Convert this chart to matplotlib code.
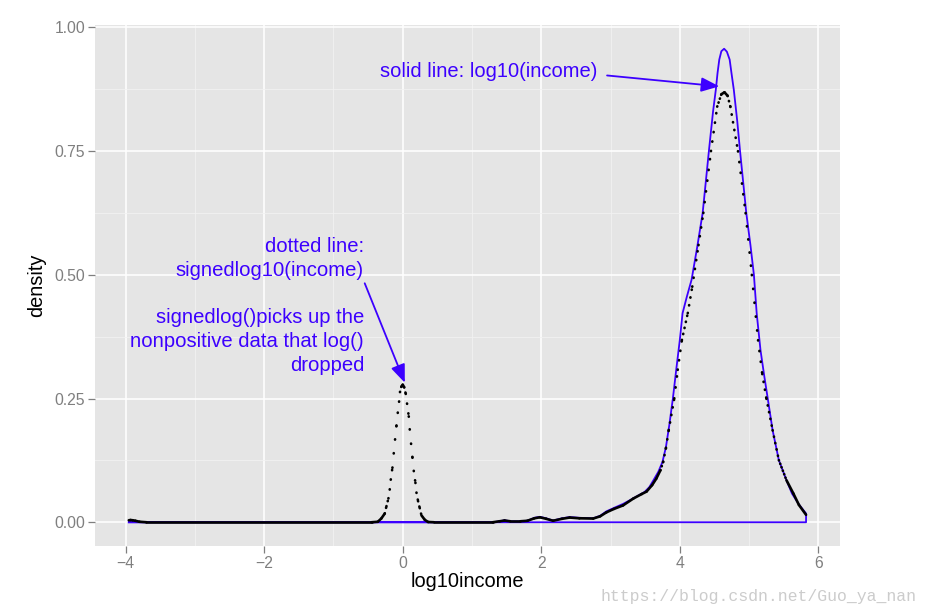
import numpy as np
import matplotlib
matplotlib.use("Agg")
import matplotlib.pyplot as plt
from matplotlib.collections import LineCollection
from matplotlib.ticker import FormatStrFormatter, MultipleLocator

# ---------------- data ----------------
# density of log10(income)  (solid blue)
log_x = [-3.955, 1.30, 1.40, 1.47, 1.55, 1.70, 1.80, 1.90, 1.98, 2.07, 2.17, 2.30,
         2.41, 2.55, 2.75, 2.85, 2.94, 3.05, 3.18, 3.28, 3.40, 3.49, 3.56, 3.62,
         3.69, 3.75, 3.80, 3.85, 3.90, 3.95, 4.00, 4.04, 4.10, 4.17, 4.25, 4.33,
         4.42, 4.48, 4.52, 4.545, 4.57, 4.60, 4.64, 4.68, 4.72, 4.746, 4.78, 4.83,
         4.87, 4.96, 5.02, 5.07, 5.11, 5.165, 5.22, 5.27, 5.34, 5.43, 5.54, 5.62,
         5.72, 5.823]
log_y = [0.0, 0.0, 0.002, 0.004, 0.002, 0.002, 0.003, 0.009, 0.011, 0.008, 0.0035,
         0.008, 0.0105, 0.009, 0.008, 0.013, 0.022, 0.029, 0.037, 0.0445, 0.054,
         0.061, 0.071, 0.085, 0.102, 0.122, 0.152, 0.198, 0.25, 0.31, 0.368, 0.4225,
         0.455, 0.49, 0.555, 0.625, 0.75, 0.83, 0.874, 0.908, 0.935, 0.952, 0.957,
         0.951, 0.935, 0.908, 0.874, 0.81, 0.75, 0.625, 0.56, 0.50, 0.4225, 0.348,
         0.295, 0.25, 0.186, 0.1255, 0.085, 0.058, 0.036, 0.0176]

# density of signedlog10(income)  (dotted black)
slog_x = [-3.955, -3.93, -3.90, -3.86, -3.80, -3.70, -0.45, -0.36, -0.31, -0.26,
          -0.236, -0.207, -0.188, -0.173, -0.149, -0.130, -0.111, -0.091, -0.072,
          -0.053, -0.040, -0.020, 0.0, 0.020, 0.043, 0.062, 0.087, 0.101, 0.120,
          0.140, 0.159, 0.183, 0.198, 0.221, 0.245, 0.270, 0.318, 0.366, 0.45,
          1.30, 1.40, 1.47, 1.55, 1.70, 1.80, 1.90, 1.98, 2.07, 2.17, 2.30, 2.41,
          2.55, 2.75, 2.85, 2.94, 3.05, 3.18, 3.33, 3.45, 3.52, 3.60, 3.66, 3.72,
          3.76, 3.80, 3.84, 3.92, 3.97, 4.03, 4.115, 4.18, 4.27, 4.34, 4.45, 4.54,
          4.60, 4.645, 4.69, 4.73, 4.84, 4.95, 5.04, 5.13, 5.19, 5.25, 5.34, 5.43,
          5.54, 5.64, 5.72, 5.823]
slog_y = [0.004, 0.0045, 0.004, 0.003, 0.001, 0.0, 0.0, 0.001, 0.0075, 0.0175,
          0.032, 0.048, 0.066, 0.086, 0.110, 0.139, 0.167, 0.195, 0.221, 0.2435,
          0.263, 0.274, 0.278, 0.273, 0.260, 0.240, 0.214, 0.188, 0.159, 0.131,
          0.104, 0.080, 0.060, 0.043, 0.029, 0.014, 0.005, 0.0005, 0.0, 0.0, 0.002,
          0.0035, 0.002, 0.002, 0.003, 0.008, 0.010, 0.007, 0.003, 0.007, 0.0095,
          0.008, 0.0075, 0.012, 0.020, 0.027, 0.034, 0.048, 0.057, 0.062, 0.075,
          0.088, 0.105, 0.122, 0.150, 0.186, 0.250, 0.308, 0.368, 0.4225, 0.476,
          0.560, 0.625, 0.750, 0.840, 0.865, 0.869, 0.862, 0.840, 0.750, 0.625,
          0.500, 0.368, 0.300, 0.250, 0.186, 0.1255, 0.085, 0.058, 0.035, 0.015]

x_ticks = [-4, -2, 0, 2, 4, 6]
y_ticks = [0.00, 0.25, 0.50, 0.75, 1.00]
x_label = "log10income"
y_label = "density"
note_solid = "solid line: log10(income)"
note_dotted = ("dotted line:\nsignedlog10(income)\n\n"
               "signedlog()picks up the\nnonpositive data that log()\ndropped")
watermark = "https://blog.csdn.net/Guo_ya_nan"

# ---------------- style ----------------
plt.rcParams["font.family"] = ["Liberation Sans", "DejaVu Sans"]
plt.rcParams["lines.scale_dashes"] = False
BLUE = "#3c00ff"
GREY = "#7f7f7f"
W, H = 930, 614

fig = plt.figure(figsize=(W / 100, H / 100), dpi=100)
ax = fig.add_axes([95 / W, 1 - 546 / H, 745 / W, 521 / H])
ax.set_xlim(-4.443, 6.313)
ax.set_ylim(-0.048, 1.005)
ax.set_facecolor("#e5e5e5")
for s in ax.spines.values():
    s.set_visible(False)

ax.set_xticks(x_ticks)
ax.set_yticks(y_ticks)
ax.xaxis.set_minor_locator(MultipleLocator(1))
ax.yaxis.set_minor_locator(MultipleLocator(0.125))
ax.yaxis.set_major_formatter(FormatStrFormatter("%.2f"))
ax.grid(which="major", color="white", linewidth=1.15)
ax.grid(which="minor", color="#f2f2f2", linewidth=0.6)
ax.set_axisbelow(True)
ax.tick_params(which="major", direction="out", length=4.7, width=0.9,
               color=GREY, labelcolor=GREY, labelsize=11.3, pad=2.5)
ax.tick_params(which="minor", length=0)

ax.set_xlabel(x_label, fontsize=14.4, color="black", labelpad=0.5)
ax.set_ylabel(y_label, fontsize=14.4, color="black", labelpad=6)

# solid blue density outline (closed to the baseline like geom_density)
bx = list(log_x) + [log_x[-1], log_x[0], log_x[0]]
by = list(log_y) + [0.0, 0.0, log_y[0]]
ax.plot(bx, by, color=BLUE, linewidth=1.3, solid_joinstyle="round", zorder=3)

# dotted black density: dash pattern restarts on every segment (R-device look)
pts = ax.transData.transform(np.column_stack([slog_x, slog_y]))
grid_px = 745 / 512 * (9.778 / 10.756)  # horizontal spacing of density grid
segs, styles = [], []
for i in range(len(slog_x) - 1):
    segs.append([(slog_x[i], slog_y[i]), (slog_x[i + 1], slog_y[i + 1])])
    dx = abs(pts[i + 1, 0] - pts[i, 0])
    dy = abs(pts[i + 1, 1] - pts[i, 1])
    slope = dy / dx if dx > 0 else 50.0
    spacing = grid_px * np.sqrt(1 + slope ** 2)
    if spacing < 3.2:
        styles.append("solid")
    else:
        styles.append((0, (0.25, (spacing - 0.35) * 0.72)))
lc = LineCollection(segs, colors="black", linewidths=1.9, linestyles=styles,
                    capstyle="round", joinstyle="round", zorder=4)
ax.add_collection(lc)

# annotations
ax.text(2.806, 0.911, note_solid, color=BLUE, fontsize=14.5, ha="right", va="center")
ax.annotate("", xy=(4.57, 0.881), xytext=(2.95, 0.903),
            arrowprops=dict(arrowstyle="-|>,head_length=0.55,head_width=0.22",
                            mutation_scale=20, color=BLUE, lw=1.3,
                            shrinkA=0, shrinkB=0), zorder=5)
ax.text(-0.559, 0.437, note_dotted, color=BLUE, fontsize=14.6, ha="right",
        va="center", multialignment="right", linespacing=1.31)
ax.annotate("", xy=(0.03, 0.282), xytext=(-0.549, 0.483),
            arrowprops=dict(arrowstyle="-|>,head_length=0.55,head_width=0.22",
                            mutation_scale=20, color=BLUE, lw=1.3,
                            shrinkA=0, shrinkB=0), zorder=5)

fig.text(600 / W, 1 - 597 / H, watermark, family=["Liberation Mono", "DejaVu Sans Mono"],
         fontsize=11.9, color="#cccccc", ha="left", va="center")

fig.savefig("out.png", dpi=100)
